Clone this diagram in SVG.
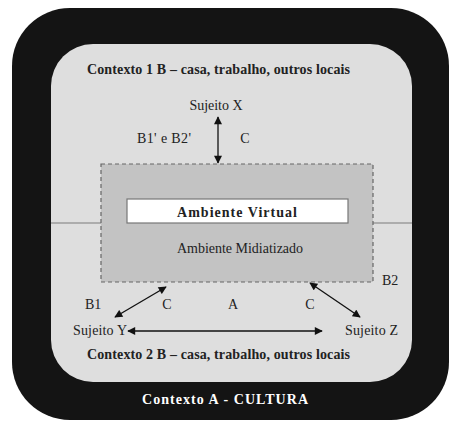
<svg xmlns="http://www.w3.org/2000/svg" width="451" height="423" viewBox="0 0 451 423">
<style>
  text { fill: #222; }
  .b { font-weight: bold; }
  .lbl { font-size: 14px; }
  .conn { stroke: #111; stroke-width: 1.3; fill: none; marker-start: url(#ah); marker-end: url(#ah); }
</style>
<defs>
  <marker id="ah" viewBox="0 0 10 10" refX="9" refY="5" markerWidth="9" markerHeight="8" markerUnits="userSpaceOnUse" orient="auto-start-reverse">
    <path d="M0,0 L10,5 L0,10 z" fill="#111"/>
  </marker>
</defs>
<rect width="451" height="423" fill="#ffffff"/>
<g font-family="Liberation Serif, serif">
<g id="contextoA">
  <rect x="12" y="8" width="437" height="412" rx="58" ry="58" fill="#141414"/>
  <text x="225" y="404" class="b" font-size="14" text-anchor="middle" style="fill:#ffffff" textLength="166">Contexto A - CULTURA</text>
</g>
<g id="contextoB">
  <rect x="51" y="44" width="361" height="338" rx="42" ry="42" fill="#dedede"/>
  <line x1="51" y1="223" x2="412" y2="223" stroke="#7a7a7a" stroke-width="1.2"/>
  <text x="87" y="74" class="b" font-size="14" textLength="263">Contexto 1 B – casa, trabalho, outros locais</text>
  <text x="87" y="359" class="b" font-size="14" textLength="263">Contexto 2 B – casa, trabalho, outros locais</text>
</g>
<g id="ambienteMidiatizado">
  <rect x="101" y="164" width="272" height="118" fill="#c3c3c3" stroke="#666" stroke-width="1.2" stroke-dasharray="4,3"/>
  <text x="240" y="253" class="lbl" text-anchor="middle" textLength="126">Ambiente Midiatizado</text>
</g>
<g id="ambienteVirtual">
  <rect x="127" y="199" width="221" height="24" fill="#ffffff" stroke="#777" stroke-width="1.2"/>
  <text x="237" y="217" class="b" font-size="14" text-anchor="middle" textLength="120">Ambiente Virtual</text>
</g>
<g id="sujeitoX">
  <text x="216" y="110" class="lbl" text-anchor="middle" textLength="53">Sujeito X</text>
</g>
<g id="sujeitoY">
  <text x="73" y="335" class="lbl" textLength="54">Sujeito Y</text>
</g>
<g id="sujeitoZ">
  <text x="345" y="335" class="lbl" textLength="53">Sujeito Z</text>
</g>
<g id="connectors">
  <line class="conn" x1="218" y1="117" x2="218" y2="163"/>
  <line class="conn" x1="166" y1="287" x2="115" y2="317"/>
  <line class="conn" x1="310" y1="283" x2="360" y2="317"/>
  <line class="conn" x1="128" y1="331" x2="322" y2="331"/>
  <text x="137" y="143" class="lbl" textLength="54">B1' e B2'</text>
  <text x="245" y="143" class="lbl" text-anchor="middle">C</text>
  <text x="85" y="309" class="lbl">B1</text>
  <text x="167" y="309" class="lbl" text-anchor="middle">C</text>
  <text x="233" y="309" class="lbl" text-anchor="middle">A</text>
  <text x="310" y="309" class="lbl" text-anchor="middle">C</text>
  <text x="382" y="285" class="lbl">B2</text>
</g>
</g>
</svg>
